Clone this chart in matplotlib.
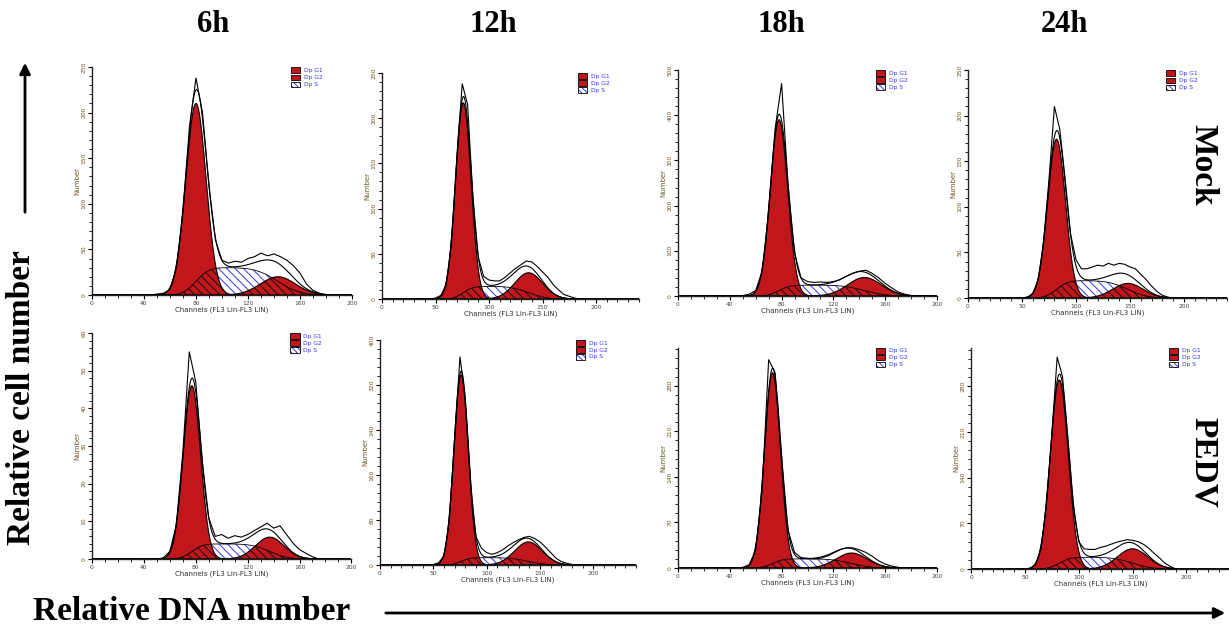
import numpy as np
import matplotlib
matplotlib.use("Agg")
import matplotlib.pyplot as plt
from matplotlib.patches import Rectangle, FancyArrowPatch
from matplotlib.ticker import MultipleLocator
from math import erf, sqrt

plt.rcParams['hatch.linewidth'] = 0.7

times = ['6h', '12h', '18h', '24h']
groups = ['Mock', 'PEDV']

# ModFit components (order: Mock 6h..24h, PEDV 6h..24h)
g1_mean = [80, 76, 78, 82, 77, 76, 73, 82]
g1_height = [210, 217, 390, 174, 46, 338, 300, 290]
g1_sd = [7.8, 7.2, 6.7, 8.3, 6.7, 6.7, 6.2, 8.3]
g2_mean = [143, 137, 144, 148, 137, 139, 134, 150]
g2_height = [20, 29, 41, 16, 5.8, 41, 23, 31]
g2_sd = [13.5, 13, 13, 14, 11, 13, 12, 14]
s_level = [30, 14, 24, 19, 4, 13, 14, 18]

# axis ranges / tick steps
x_max = [200, 240, 200, 240, 200, 240, 200, 240]
y_max = [250, 250, 500, 250, 60, 400, 338, 339]
x_major = [40, 50, 40, 50, 40, 50, 40, 50]
y_major = [50, 50, 100, 50, 10, 80, 70, 70]

# observed histogram (counts read every 5 channels)
obs_channels = list(range(45, 195, 5))
observed = [
    [0, 1, 2, 6, 30, 92, 185, 238, 200, 120, 60, 38, 35, 37, 36, 40, 42, 46, 43, 45, 42, 38, 32, 24, 12, 5, 2, 0, 0, 0],
    [0, 1, 4, 16, 62, 158, 238, 215, 112, 46, 25, 21, 20, 20, 24, 29, 34, 38, 42, 41, 36, 30, 24, 16, 10, 5, 3, 1, 0, 0],
    [0, 1, 4, 12, 55, 185, 370, 470, 245, 95, 40, 32, 30, 31, 30, 32, 36, 44, 50, 55, 57, 50, 40, 28, 18, 9, 4, 1, 0, 0],
    [0, 0, 1, 5, 20, 62, 130, 210, 185, 130, 70, 42, 32, 32, 34, 36, 35, 38, 36, 38, 37, 34, 32, 26, 20, 13, 7, 3, 1, 0],
    [0, 0, 0.3, 2, 9, 28, 55, 47, 26, 11, 6, 6.5, 5.5, 6.2, 5.8, 6.5, 7.5, 8.5, 9.5, 8.2, 8.8, 6.5, 4.2, 2.5, 1.5, 0.6, 0, 0, 0, 0],
    [0, 1, 4, 16, 80, 228, 370, 295, 140, 50, 30, 22, 19, 22, 27, 34, 40, 45, 49, 51, 47, 41, 32, 22, 12, 6, 3, 1, 0, 0],
    [0, 1, 5, 28, 120, 320, 300, 170, 58, 24, 16, 15, 14, 15, 18, 23, 28, 31, 31, 28, 24, 18, 11, 6, 3, 1, 0, 0, 0, 0],
    [0, 0, 1, 7, 30, 98, 205, 325, 295, 200, 98, 42, 31, 30, 30, 33, 35, 38, 41, 43, 45, 44, 42, 38, 32, 24, 17, 9, 4, 0],
]

# panel placement in pixels: left of x=0, y of x-axis, top of y-axis, px per channel
panel_px = [(92, 295, 67, 1.30), (382, 299, 73, 1.07), (678, 296, 70, 1.295), (968, 298, 70, 1.08),
            (92, 559, 333, 1.297), (380, 565, 340, 1.067), (678, 568, 348, 1.295), (971, 569, 348, 1.077)]

W, H = 1229, 630
RED = '#c1161c'
BLUE = '#3434f2'
HATCH = '\\\\\\\\'
serif = 'Liberation Serif'


def phi(z):
    return np.array([0.5 * (1 + erf(v / sqrt(2))) for v in z])


fig = plt.figure(figsize=(W / 100, H / 100), dpi=100)

for i in range(8):
    L, Y, T, pc = panel_px[i]
    ax = fig.add_axes([L / W, 1 - Y / H, x_max[i] * pc / W, (Y - T) / H])
    x = np.linspace(0, x_max[i], 800)
    g1 = g1_height[i] * np.exp(-0.5 * ((x - g1_mean[i]) / g1_sd[i]) ** 2)
    g2 = g2_height[i] * np.exp(-0.5 * ((x - g2_mean[i]) / g2_sd[i]) ** 2)
    s = s_level[i] * (phi((x - g1_mean[i]) / g1_sd[i]) - phi((x - g2_mean[i]) / g2_sd[i]))
    s = np.clip(s, 0, None)

    ax.fill_between(x, 0, s, facecolor='white', edgecolor=BLUE, hatch=HATCH, lw=0, zorder=1)
    ax.fill_between(x, 0, g1, facecolor=RED, edgecolor='none', zorder=2)
    ax.fill_between(x, 0, g2, facecolor=RED, edgecolor='none', zorder=2)
    ax.fill_between(x, 0, np.minimum(s, g1 + g2), facecolor='none', edgecolor='#111111',
                    hatch=HATCH, lw=0, zorder=3)
    ax.plot(x, g1, color='black', lw=0.8, zorder=4)
    ax.plot(x, g2, color='black', lw=0.8, zorder=4)
    ax.plot(x, s, color='black', lw=0.6, zorder=4)
    ax.plot(x, g1 + g2 + s, color='black', lw=0.8, zorder=5)
    ax.plot(obs_channels, observed[i], color='black', lw=0.8, zorder=5)

    ax.set_xlim(0, x_max[i])
    ax.set_ylim(0, y_max[i])
    for sp in ['top', 'right']:
        ax.spines[sp].set_visible(False)
    for sp in ['left', 'bottom']:
        ax.spines[sp].set_linewidth(1.0)
        ax.spines[sp].set_color('#222222')
    ax.set_xticks(np.arange(0, 201, x_major[i]))
    ax.xaxis.set_minor_locator(MultipleLocator(10))
    ax.yaxis.set_major_locator(MultipleLocator(y_major[i]))
    ax.yaxis.set_minor_locator(MultipleLocator(y_major[i] / 5))
    ax.tick_params(which='major', length=3, width=0.8, pad=1, labelsize=4.3)
    ax.tick_params(which='minor', length=2, width=0.6)
    ax.tick_params(axis='y', labelrotation=90, labelcolor='#6d5524')
    ax.tick_params(axis='x', labelcolor='#444444')
    for lab in ax.get_yticklabels():
        lab.set_va('center')
    ax.set_xlabel('Channels (FL3 Lin-FL3 LIN)', fontsize=5, labelpad=1, color='#333333')
    ax.set_ylabel('Number', fontsize=5, labelpad=1, color='#6d5524')
    ax.patch.set_alpha(0)

    # legend boxes
    names = ['Dp G1', 'Dp G2', 'Dp S']
    for k, nm in enumerate(names):
        yb = 0.975 - k * 0.031
        if k < 2:
            r = Rectangle((0.765, yb), 0.035, 0.023, transform=ax.transAxes, facecolor=RED,
                          edgecolor='black', lw=0.6, clip_on=False, zorder=6)
        else:
            r = Rectangle((0.765, yb), 0.035, 0.023, transform=ax.transAxes, facecolor='none',
                          edgecolor='black', lw=0.6, clip_on=False, zorder=7)
            ax.add_patch(Rectangle((0.765, yb), 0.035, 0.023, transform=ax.transAxes,
                                   facecolor='white', edgecolor=BLUE, hatch='\\\\\\\\\\\\', lw=0,
                                   clip_on=False, zorder=6))
        ax.add_patch(r)
        ax.text(0.815, yb + 0.0115, nm, transform=ax.transAxes, fontsize=4.3, color=BLUE,
                va='center', ha='left')

# column titles
for t, cx in zip(times, [213, 493, 781, 1065]):
    fig.text(cx / W, 1 - 25 / H, t, ha='center', va='center', fontsize=22,
             fontweight='bold', family=serif)

# row labels
fig.text(1203 / W, 1 - 165 / H, groups[0], rotation=-90, ha='center', va='center',
         fontsize=24, fontweight='bold', family=serif, zorder=10)
fig.text(1203 / W, 1 - 462 / H, groups[1], rotation=-90, ha='center', va='center',
         fontsize=24, fontweight='bold', family=serif, zorder=10)

# axis titles with arrows
fig.text(22 / W, 1 - 398 / H, 'Relative cell number', rotation=90, ha='center', va='center',
         fontsize=24, fontweight='bold', family=serif)
fig.text(192 / W, 1 - 612 / H, 'Relative DNA number', ha='center', va='center',
         fontsize=24, fontweight='bold', family=serif)
fig.add_artist(FancyArrowPatch((25 / W, 1 - 215 / H), (25 / W, 1 - 60 / H),
                               transform=fig.transFigure, arrowstyle='-|>', mutation_scale=16,
                               lw=2, color='black'))
fig.add_artist(FancyArrowPatch((383 / W, 1 - 613 / H), (1228 / W, 1 - 613 / H),
                               transform=fig.transFigure, arrowstyle='-|>', mutation_scale=16,
                               lw=2, color='black'))

fig.savefig('out.png', dpi=100)
